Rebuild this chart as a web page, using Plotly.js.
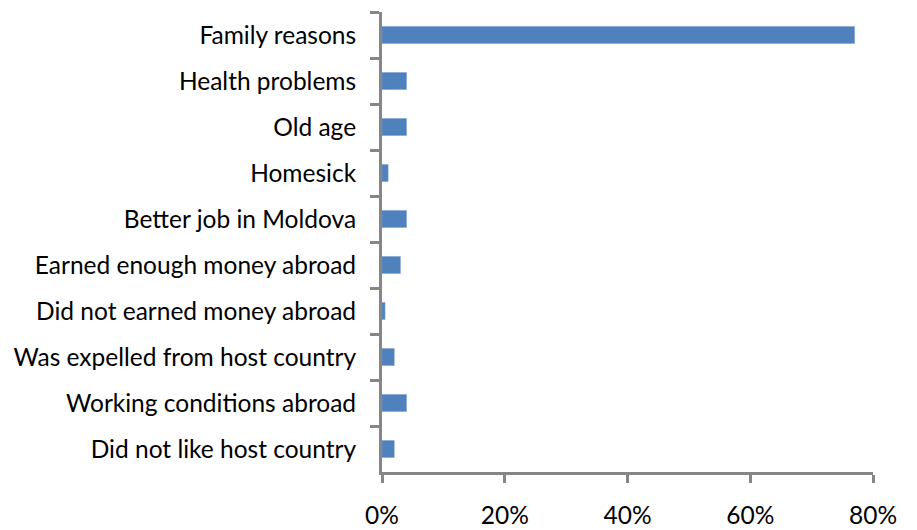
<!DOCTYPE html>
<html><head><meta charset="utf-8">
<script src="https://cdn.plot.ly/plotly-3.0.1.min.js"></script>
<style>html,body{margin:0;padding:0;background:#fff}#chart{width:917px;height:530px}</style>
</head><body><div id="chart"></div>
<script>
const categories = [
  "Family reasons",
  "Health problems",
  "Old age",
  "Homesick",
  "Better job in Moldova",
  "Earned enough money abroad",
  "Did not earned money abroad",
  "Was expelled from host country",
  "Working conditions abroad",
  "Did not like host country"
];
const shares = [0.77, 0.04, 0.04, 0.01, 0.04, 0.03, 0.005, 0.02, 0.04, 0.02];
const xTickVals = [0, 0.2, 0.4, 0.6, 0.8];
const xTickText = ["0%", "20%", "40%", "60%", "80%"];

const trace = {
  type: 'bar', orientation: 'h',
  y: categories, x: shares,
  marker: {color: '#4F81BD', line: {color: '#7A9FCF', width: 0.5}},
  hoverinfo: 'none'
};
const layout = {
  width: 917, height: 530,
  margin: {l: 382, r: 44, t: 12, b: 58},
  paper_bgcolor: '#fff', plot_bgcolor: '#fff',
  font: {family: 'Lato, "Open Sans", sans-serif', size: 24.5, color: '#000'},
  bargap: 0.63,
  showlegend: false,
  xaxis: {
    range: [0, 0.8], tickvals: xTickVals, ticktext: xTickText,
    showgrid: false, zeroline: false,
    showline: true, linecolor: '#868686', linewidth: 3,
    ticks: 'outside', ticklen: 8, tickwidth: 3, tickcolor: '#868686',
    ticklabelstandoff: 12, fixedrange: true
  },
  yaxis: {
    autorange: 'reversed', type: 'category',
    showgrid: false, zeroline: false,
    showline: true, linecolor: '#868686', linewidth: 3,
    ticks: 'outside', tickson: 'boundaries', ticklen: 9, tickwidth: 3, tickcolor: '#868686',
    ticklabelstandoff: 18, fixedrange: true
  }
};
Plotly.newPlot('chart', [trace], layout, {displayModeBar: false, staticPlot: true});
</script></body></html>
